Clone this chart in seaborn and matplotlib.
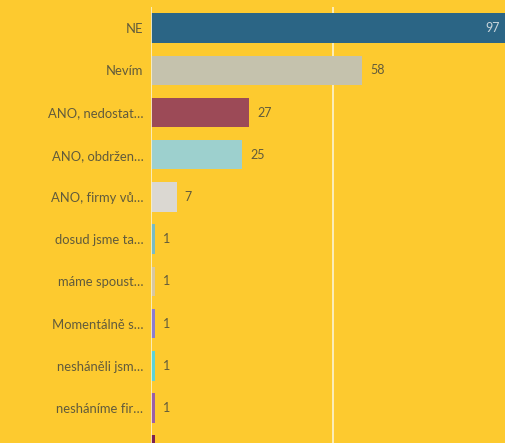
import matplotlib
matplotlib.use("Agg")
import matplotlib.pyplot as plt
import seaborn as sns
import pandas as pd

categories = [
    "NE",
    "Nevím",
    "ANO, nedostat…",
    "ANO, obdržen…",
    "ANO, firmy vů…",
    "dosud jsme ta…",
    "máme spoust…",
    "Momentálně s…",
    "nesháněli jsm…",
    "nesháníme fir…",
    "ostatní",
]
values = [97, 58, 27, 25, 7, 1, 1, 1, 1, 1, 1]
colors = [
    "#2b6585", "#c5c2ad", "#9c4a57", "#9dd0ce", "#dbd8d2", "#79bcc2",
    "#d8c7a0", "#8c7bd0", "#5fd3d6", "#9b5ea6", "#7d2150",
]

bg = "#fdca2f"
text_col = "#615b3c"

sns.set_theme(style="white")
plt.rcParams["font.family"] = ["Lato", "DejaVu Sans"]

df = pd.DataFrame({"odpoved": categories, "pocet": values})

fig = plt.figure(figsize=(5.05, 4.43), dpi=100)
fig.patch.set_facecolor(bg)
ax = fig.add_axes([151 / 505, 0.0, 1 - 151 / 505, 1 - 7 / 443])
ax.set_facecolor(bg)

ymax = 9.83

sns.barplot(data=df, y="odpoved", x="pocet", hue="odpoved", palette=colors,
            orient="h", width=0.7, legend=False, ax=ax, saturation=1,
            linewidth=0, edgecolor="none")

ax.set_xlim(0, 97.1)
ax.set_ylim(ymax, -0.5)
ax.set_xlabel("")
ax.set_ylabel("")
ax.set_xticks([])
for s in ax.spines.values():
    s.set_visible(False)

ax.axvline(50, color="#fbf0c4", lw=1.3, zorder=0.5)
ax.axvline(0.1, color="#fbf0c4", lw=1.3, zorder=3)

ax.tick_params(axis="y", length=0, pad=5.5, labelsize=9.4, labelcolor=text_col)

for i, v in enumerate(values):
    if i + 0.3 > ymax:
        continue
    if v > 90:
        ax.text(v - 1.4, i, str(v), ha="right", va="center", fontsize=9,
                color="#c8d5dc")
    else:
        ax.text(v + 2.2, i, str(v), ha="left", va="center", fontsize=9,
                color=text_col)

fig.savefig("out.png", dpi=100, facecolor=bg)
